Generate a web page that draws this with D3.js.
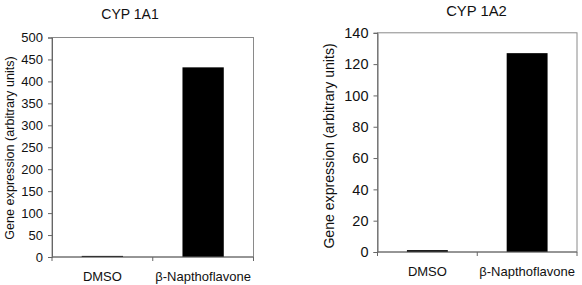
<!DOCTYPE html>
<html>
<head>
<meta charset="utf-8">
<script src="https://cdn.jsdelivr.net/npm/d3@7"></script>
<style>
  body { margin: 0; background: #fff; }
  svg { display: block; font-family: "Liberation Sans", Arial, sans-serif; }
</style>
</head>
<body>
<div id="chart"></div>
<script>
// Data
const categories = ["DMSO", "β-Napthoflavone"];
const cyp1a1Values = [2.5, 432];
const cyp1a2Values = [1.2, 127];
const cyp1a1Ticks = [0, 50, 100, 150, 200, 250, 300, 350, 400, 450, 500];
const cyp1a2Ticks = [0, 20, 40, 60, 80, 100, 120, 140];
const yTitle = "Gene expression (arbitrary units)";

const W = 582, H = 285;

const svg = d3.select("#chart").append("svg")
    .attr("width", W)
    .attr("height", H)
    .attr("viewBox", `0 0 ${W} ${H}`);

// Draw one panel (Excel-style bar chart with a grey plot box)
function renderPanel(opts, values, ticks) {
    const g = svg.append("g");

    const x = d3.scaleBand()
        .domain(categories)
        .range([opts.left, opts.right])
        .paddingInner(0.59)
        .paddingOuter(0.295);

    const y = d3.scaleLinear()
        .domain([0, d3.max(ticks)])
        .range([opts.bottom, opts.top]);

    // plot box
    g.append("rect")
        .attr("x", opts.left)
        .attr("y", opts.top)
        .attr("width", opts.right - opts.left)
        .attr("height", opts.bottom - opts.top)
        .attr("fill", "none")
        .attr("stroke", "#8a8a8a")
        .attr("stroke-width", 1);

    // bars
    g.selectAll(".bar")
        .data(values)
        .join("rect")
        .attr("class", "bar")
        .attr("x", (d, i) => x(categories[i]))
        .attr("y", d => y(d))
        .attr("width", x.bandwidth())
        .attr("height", d => Math.max(y(0) - y(d), 1))
        .attr("fill", "#000");

    // Y axis
    g.append("g")
        .attr("transform", `translate(${opts.left},0)`)
        .call(d3.axisLeft(y).tickValues(ticks).tickSize(4).tickPadding(5))
        .call(a => a.select(".domain").attr("stroke", "#666"))
        .call(a => a.selectAll(".tick line").attr("stroke", "#666"))
        .selectAll("text")
        .attr("fill", "#111")
        .style("font-size", opts.tickSize + "px")
        .style("font-family", "Liberation Sans, Arial, sans-serif");

    // X axis: ticks at category boundaries
    const step = x.step();
    const bounds = d3.range(categories.length + 1).map(i => opts.left + i * step);
    g.append("line")
        .attr("x1", opts.left).attr("x2", opts.right)
        .attr("y1", y(0)).attr("y2", y(0))
        .attr("stroke", "#666");
    g.selectAll(".xtick")
        .data(bounds)
        .join("line")
        .attr("class", "xtick")
        .attr("x1", d => d).attr("x2", d => d)
        .attr("y1", y(0)).attr("y2", y(0) + 4)
        .attr("stroke", "#666");

    g.selectAll(".xlabel")
        .data(categories)
        .join("text")
        .attr("class", "xlabel")
        .attr("x", d => x(d) + x.bandwidth() / 2)
        .attr("y", opts.xLabelY)
        .attr("text-anchor", "middle")
        .attr("fill", "#111")
        .style("font-size", "13px")
        .text(d => d);

    // title
    g.append("text")
        .attr("x", opts.titleX)
        .attr("y", opts.titleY)
        .attr("text-anchor", "middle")
        .attr("fill", "#111")
        .style("font-size", opts.titleSize + "px")
        .text(opts.title);

    // Y title
    g.append("text")
        .attr("transform", `translate(${opts.yTitleX},${opts.yTitleY}) rotate(-90)`)
        .attr("text-anchor", "middle")
        .attr("dy", "0.35em")
        .attr("fill", "#111")
        .style("font-size", opts.yTitleSize + "px")
        .text(yTitle);
}

renderPanel({
    title: "CYP 1A1", titleX: 130, titleY: 19, titleSize: 14,
    left: 52, right: 253.5, top: 37.5, bottom: 257,
    tickSize: 13, xLabelY: 280.5,
    yTitleX: 10, yTitleY: 148, yTitleSize: 12.6
}, cyp1a1Values, cyp1a1Ticks);

renderPanel({
    title: "CYP 1A2", titleX: 476.5, titleY: 15.5, titleSize: 14.8,
    left: 377.5, right: 577, top: 32.8, bottom: 252,
    tickSize: 14.5, xLabelY: 275.5,
    yTitleX: 329.5, yTitleY: 146, yTitleSize: 14.1
}, cyp1a2Values, cyp1a2Ticks);
</script>
</body>
</html>
